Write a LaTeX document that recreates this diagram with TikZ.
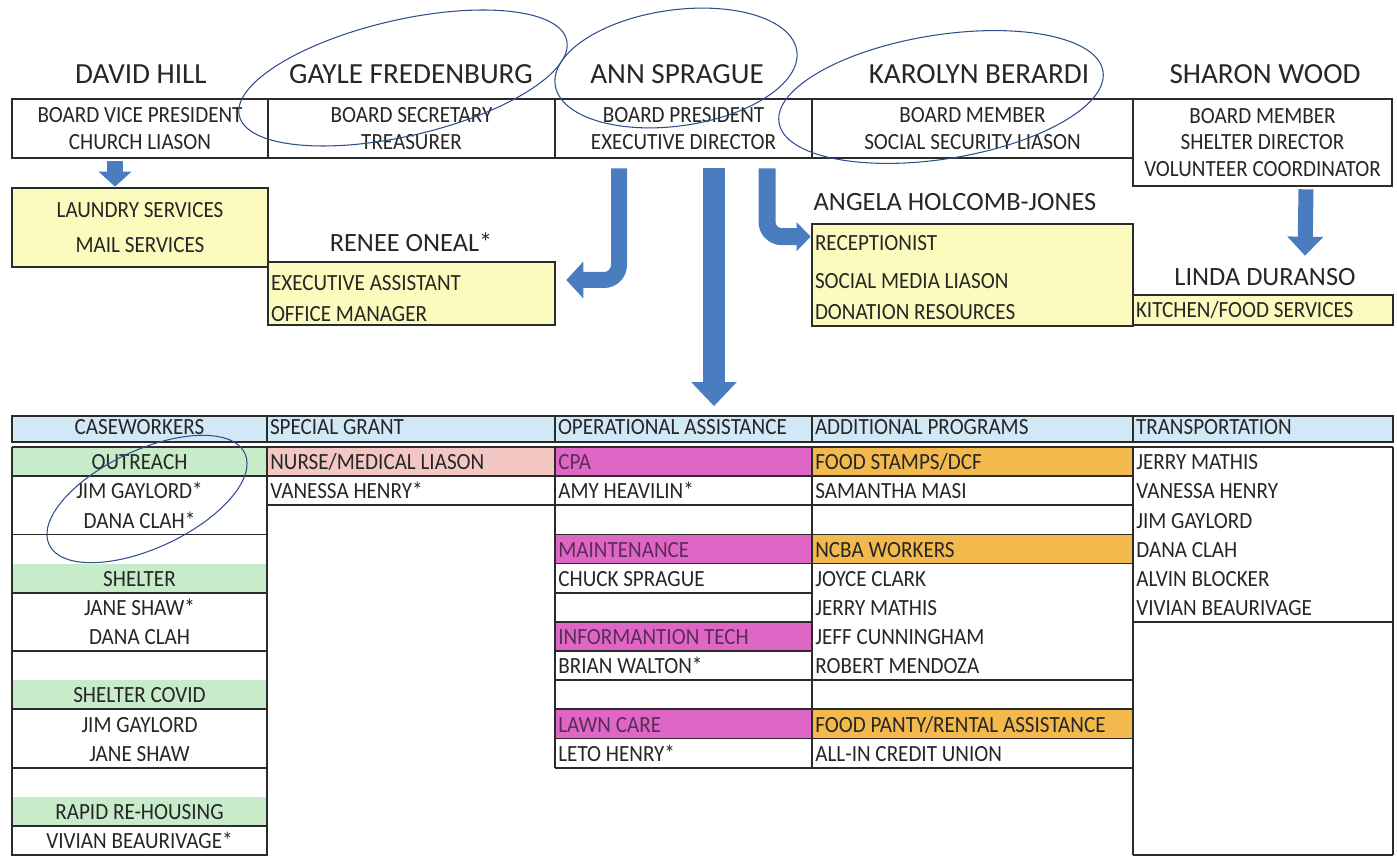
\documentclass[tikz,border=0pt]{standalone}
\usepackage{fontspec}
\setmainfont{Carlito}[FakeStretch=0.91]
\newfontfamily\namefamily{Carlito}
\usetikzlibrary{positioning, arrows.meta, calc}
\definecolor{boxline}{HTML}{2B2B2B}
\definecolor{inkblue}{HTML}{2F4E8C}
\definecolor{arrowblue}{HTML}{4A7DC0}
\definecolor{noteyellow}{HTML}{FCFBBE}
\definecolor{headblue}{HTML}{D2E8F6}
\definecolor{tabgreen}{HTML}{C8EBC9}
\definecolor{nursepink}{HTML}{F3C8C4}
\definecolor{tabmagenta}{HTML}{E066C6}
\definecolor{taborange}{HTML}{F4B94C}
\definecolor{plumtext}{HTML}{5A2D58}
\newcommand{\namefont}{\namefamily\fontsize{16.6}{19}\selectfont}
\newcommand{\staffnamefont}{\namefamily\fontsize{15}{18}\selectfont}
\newcommand{\rolefont}{\fontsize{13.2}{15.3}\selectfont}
\tikzset{
  personname/.style = {font=\namefont, text=black!85, inner sep=0pt, text height=0.65em, text depth=0pt},
  staffname/.style  = {personname, font=\staffnamefont},
  rolebox/.style    = {rectangle, draw=boxline, line width=1.5pt, fill=white, align=center,
                       font=\rolefont, text=black!85, inner sep=0pt},
  dutybox/.style    = {rectangle, draw=boxline, line width=1.5pt, fill=noteyellow,
                       font=\rolefont, text=black!85, inner xsep=0.06cm, inner ysep=0pt},
  headcell/.style   = {rectangle, draw=boxline, line width=1pt, fill=headblue, font=\rolefont,
                       text=black!85, minimum height=0.52cm, inner xsep=0.06cm, inner ysep=0pt,
                       text height=0.65em, text depth=0pt},
  celltext/.style   = {font=\rolefont, text=black!85, inner sep=0pt, text height=0.65em, text depth=0pt},
  gridline/.style   = {draw=boxline, line width=1pt},
  penloop/.style    = {draw=inkblue, line width=0.6pt},
  fatarrow/.style n args = {3}{draw=arrowblue, line width=#1, -{Triangle[width=#2, length=#3]}},
}

\begin{document}
\begin{tikzpicture}
\useasboundingbox (0,0) rectangle (27.94,17.14);

% =============== BOARD ===============
\node (dhname) [personname] at (2.82,15.58)  {DAVID HILL};
\node (gfname) [personname] at (8.22,15.58)  {GAYLE FREDENBURG};
\node (asname) [personname] at (13.54,15.58) {ANN SPRAGUE};
\node (kbname) [personname] at (19.58,15.58) {KAROLYN BERARDI};
\node (swname) [personname] at (25.30,15.58) {SHARON WOOD};

\node (dhbox) [rolebox, minimum width=5.12cm, minimum height=1.18cm] at (2.80,14.57)
  {BOARD VICE PRESIDENT\\CHURCH LIASON};
\node (gfbox) [rolebox, minimum width=5.74cm, minimum height=1.18cm] at (8.23,14.57)
  {BOARD SECRETARY\\TREASURER};
\node (asbox) [rolebox, minimum width=5.14cm, minimum height=1.18cm] at (13.67,14.57)
  {BOARD PRESIDENT\\EXECUTIVE DIRECTOR};
\node (kbbox) [rolebox, minimum width=6.42cm, minimum height=1.18cm] at (19.45,14.57)
  {BOARD MEMBER\\SOCIAL SECURITY LIASON};
\node (swbox) [rolebox, minimum width=5.18cm, minimum height=1.74cm] at (25.25,14.29)
  {BOARD MEMBER\\SHELTER DIRECTOR\\VOLUNTEER COORDINATOR};

% =============== STAFF ===============
\node (laundry) [dutybox, minimum width=5.12cm, minimum height=1.58cm, text width=5.00cm, align=flush center]
  at (2.80,12.59) {LAUNDRY SERVICES\\[4.5pt]MAIL SERVICES};

\node (rnname) [staffname] at (8.22,12.22) {RENEE ONEAL*};
\node (renee) [dutybox, minimum width=5.74cm, minimum height=1.26cm, text width=5.62cm, align=flush left]
  at (8.23,11.27) {\rule{0pt}{14.2pt}EXECUTIVE ASSISTANT\\[2.3pt]OFFICE MANAGER};

\node (ahname) [staffname] at (19.10,13.04) {ANGELA HOLCOMB-JONES};
\node (angela) [dutybox, minimum width=6.42cm, minimum height=2.04cm, text width=6.30cm, align=flush left]
  at (19.45,11.64) {\rule{0pt}{11.9pt}RECEPTIONIST\\[6.3pt]SOCIAL MEDIA LIASON\\[2.3pt]DONATION RESOURCES};

\node (ldname) [staffname] at (25.30,11.54) {LINDA DURANSO};
\node (ldbox) [dutybox, minimum width=5.20cm, minimum height=0.60cm, text width=5.08cm, align=flush left]
  at (25.26,10.94) {KITCHEN/FOOD SERVICES};

% =============== TABLE HEADER ===============
\node (hcase)  [headcell, minimum width=5.10cm, text width=4.98cm, align=flush center] at (2.79,8.56)  {CASEWORKERS};
\node (hgrant) [headcell, minimum width=5.76cm, text width=5.64cm, align=flush left]   at (8.22,8.56)  {SPECIAL GRANT};
\node (hops)   [headcell, minimum width=5.14cm, text width=5.02cm, align=flush left]   at (13.67,8.56) {OPERATIONAL ASSISTANCE};
\node (hprog)  [headcell, minimum width=6.42cm, text width=6.30cm, align=flush left]   at (19.45,8.56) {ADDITIONAL PROGRAMS};
\node (htrans) [headcell, minimum width=5.20cm, text width=5.08cm, align=flush left]   at (25.26,8.56) {TRANSPORTATION};

% colour bands
\foreach \r in {0,4,8,12}
  \fill[tabgreen] (0.24,{8.2-0.583*\r}) rectangle (5.34,{8.2-0.583*(\r+1)});
\fill[nursepink] (5.34,8.2) rectangle (11.10,{8.2-0.583});
\foreach \r in {0,3,6,9}
  \fill[tabmagenta] (11.10,{8.2-0.583*\r}) rectangle (16.24,{8.2-0.583*(\r+1)});
\foreach \r in {0,3,9}
  \fill[taborange] (16.24,{8.2-0.583*\r}) rectangle (22.66,{8.2-0.583*(\r+1)});

% rules
\draw[gridline] (0.24,8.2) -- (27.86,8.2);
\foreach \k in {1,3,...,13}
  \draw[gridline] (0.24,{8.2-0.583*\k}) -- (5.34,{8.2-0.583*\k});
\foreach \k in {1,2}
  \draw[gridline] (5.34,{8.2-0.583*\k}) -- (11.10,{8.2-0.583*\k});
\foreach \k in {1,...,11}
  \draw[gridline] (11.10,{8.2-0.583*\k}) -- (16.24,{8.2-0.583*\k});
\foreach \k in {1,2,3,4,8,9,10,11}
  \draw[gridline] (16.24,{8.2-0.583*\k}) -- (22.66,{8.2-0.583*\k});
\foreach \k in {6,14}
  \draw[gridline] (22.66,{8.2-0.583*\k}) -- (27.86,{8.2-0.583*\k});
\draw[gridline] (0.24,8.2) -- (0.24,0.038) -- (5.34,0.038) -- (5.34,8.2);
\draw[gridline] (11.10,8.2) -- (11.10,1.787);
\draw[gridline] (16.24,8.2) -- (16.24,1.787);
\draw[gridline] (22.66,8.2) -- (22.66,0.038);
\draw[gridline] (27.86,8.2) -- (27.86,0.038);

% cell texts
\foreach \r/\who in {0/OUTREACH, 1/{JIM GAYLORD*}, 2/{DANA CLAH*}, 4/SHELTER, 5/{JANE SHAW*},
    6/{DANA CLAH}, 8/{SHELTER COVID}, 9/{JIM GAYLORD}, 10/{JANE SHAW}, 12/{RAPID RE-HOUSING},
    13/{VIVIAN BEAURIVAGE*}}
  \node[celltext] (cw\r) at (2.79,{8.15-0.583*(\r+0.5)}) {\who};
\foreach \r/\who in {0/{NURSE/MEDICAL LIASON}, 1/{VANESSA HENRY*}}
  \node[celltext, anchor=west] (sg\r) at (5.40,{8.15-0.583*(\r+0.5)}) {\who};
\foreach \r/\who/\ink in {0/CPA/plumtext, 1/{AMY HEAVILIN*}/black!85, 3/MAINTENANCE/plumtext,
    4/{CHUCK SPRAGUE}/black!85, 6/{INFORMANTION TECH}/plumtext, 7/{BRIAN WALTON*}/black!85,
    9/{LAWN CARE}/plumtext, 10/{LETO HENRY*}/black!85}
  \node[celltext, anchor=west, text=\ink] (oa\r) at (11.16,{8.15-0.583*(\r+0.5)}) {\who};
\foreach \r/\who in {0/{FOOD STAMPS/DCF}, 1/{SAMANTHA MASI}, 3/{NCBA WORKERS}, 4/{JOYCE CLARK},
    5/{JERRY MATHIS}, 6/{JEFF CUNNINGHAM}, 7/{ROBERT MENDOZA}, 9/{FOOD PANTY/RENTAL ASSISTANCE},
    10/{ALL-IN CREDIT UNION}}
  \node[celltext, anchor=west] (ap\r) at (16.30,{8.15-0.583*(\r+0.5)}) {\who};
\foreach \r/\who in {0/{JERRY MATHIS}, 1/{VANESSA HENRY}, 2/{JIM GAYLORD}, 3/{DANA CLAH},
    4/{ALVIN BLOCKER}, 5/{VIVIAN BEAURIVAGE}}
  \node[celltext, anchor=west] (tr\r) at (22.72,{8.15-0.583*(\r+0.5)}) {\who};

% =============== ARROWS ===============
\draw[fatarrow={0.32cm}{0.64cm}{0.30cm}] ($(dhbox.south)+(-0.5,-0.04)$) -- ($(laundry.north)+(-0.5,0)$);
\draw[fatarrow={0.32cm}{0.72cm}{0.34cm}, rounded corners=0.3cm]
  ($(asbox.south)+(-1.29,-0.18)$) |- ($(renee.east)+(0.20,0.27)$);
\draw[fatarrow={0.44cm}{0.88cm}{0.48cm}] ($(asbox.south)+(0.61,-0.18)$) -- ($(hops.north)+(0.61,0.18)$);
\draw[fatarrow={0.34cm}{0.56cm}{0.28cm}, rounded corners=0.3cm]
  ($(asbox.south)+(1.67,-0.18)$) |- ($(angela.north west)+(0,-0.28)$);
\draw[fatarrow={0.30cm}{0.70cm}{0.38cm}] ($(swbox.south)+(0.87,-0.04)$) -- ($(ldbox.north)+(0.84,0.76)$);

% =============== PEN MARKS ===============
\draw[penloop, rotate around={13:(8.06,15.58)}] (8.06,15.58) ellipse [x radius=3.36cm, y radius=1.16cm];
\draw[penloop, rotate around={8:(13.52,15.78)}] (13.52,15.78) ellipse [x radius=2.44cm, y radius=1.16cm];
\draw[penloop, rotate around={9:(18.82,15.20)}] (18.82,15.20) ellipse [x radius=3.28cm, y radius=1.24cm];
\draw[penloop, rotate around={25:(2.94,7.16)}] (2.94,7.16) ellipse [x radius=2.16cm, y radius=0.98cm];

\end{tikzpicture}
\end{document}
